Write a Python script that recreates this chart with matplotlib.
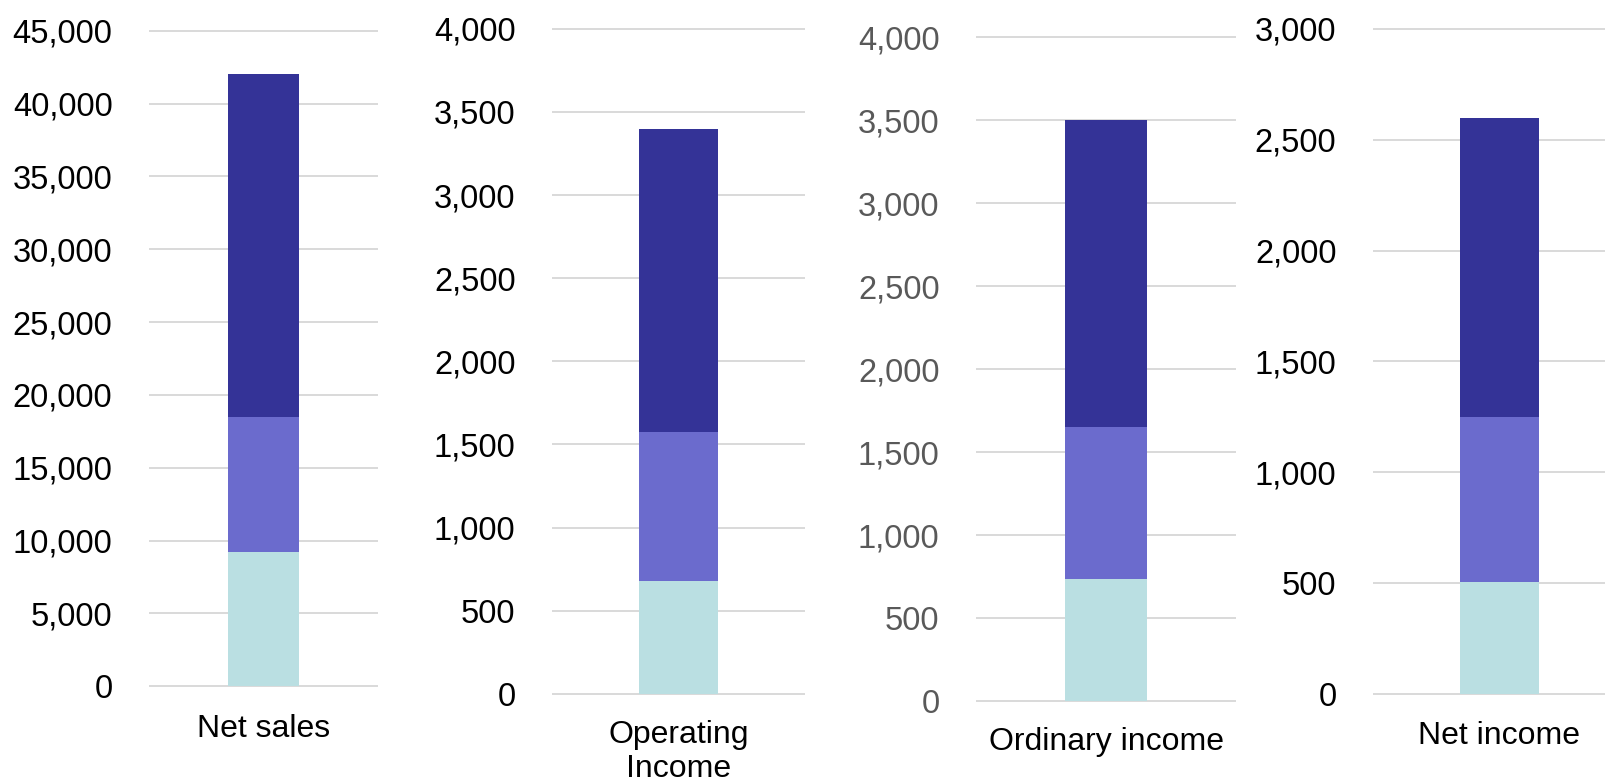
import matplotlib
matplotlib.use("Agg")
import matplotlib.pyplot as plt
from matplotlib.ticker import FuncFormatter, MultipleLocator

# Figures (millions of yen), stacked in three segments per indicator
categories = ["Net sales", "Operating\nIncome", "Ordinary income", "Net income"]
segment_1 = [9200, 680, 735, 505]
segment_2 = [9300, 895, 915, 745]
segment_3 = [23500, 1825, 1850, 1350]
axis_max = [45000, 4000, 4000, 3000]
axis_step = [5000, 500, 500, 500]

colors = ["#BADFE2", "#6B6BCD", "#343397"]
tick_colors = ["#000000", "#000000", "#595959", "#000000"]

W, H = 1605, 781
fig = plt.figure(figsize=(W / 100, H / 100), dpi=100)
plt.rcParams["font.family"] = ["Liberation Sans", "DejaVu Sans"]

# panel frames in pixels: left, right, top, bottom
frames = [
    (150, 377, 30.8, 686.3),
    (553, 804, 28.9, 693.7),
    (977, 1235, 37.0, 701.2),
    (1374, 1625, 28.9, 693.7),
]
label_pads = [20.3, 19.0, 18.6, 19.3]

for i, cat in enumerate(categories):
    l, r, t, b = frames[i]
    ax = fig.add_axes([l / W, 1 - b / H, (r - l) / W, (b - t) / H])
    bottom = 0
    for seg, col in zip((segment_1, segment_2, segment_3), colors):
        ax.bar(0, seg[i], width=0.315, bottom=bottom, color=col, zorder=3)
        bottom += seg[i]
    ax.set_xlim(-0.5, 0.5)
    ax.set_ylim(0, axis_max[i])
    ax.yaxis.set_major_locator(MultipleLocator(axis_step[i]))
    ax.yaxis.set_major_formatter(FuncFormatter(lambda v, p: f"{int(round(v)):,}"))
    ax.grid(axis="y", color="#D9D9D9", linewidth=1.4, zorder=0)
    for gl in ax.get_ygridlines():
        gl.set_clip_on(False)
    ax.set_axisbelow(True)
    for s in ax.spines.values():
        s.set_visible(False)
    ax.set_xticks([0])
    ax.set_xticklabels([cat], fontsize=23, color="#000000", linespacing=1.15)
    ax.tick_params(axis="x", length=0, pad=label_pads[i])
    ax.tick_params(axis="y", length=0, pad=27, labelsize=23.5,
                   labelcolor=tick_colors[i])
    ax.patch.set_visible(False)

fig.savefig("out.png", dpi=100)
